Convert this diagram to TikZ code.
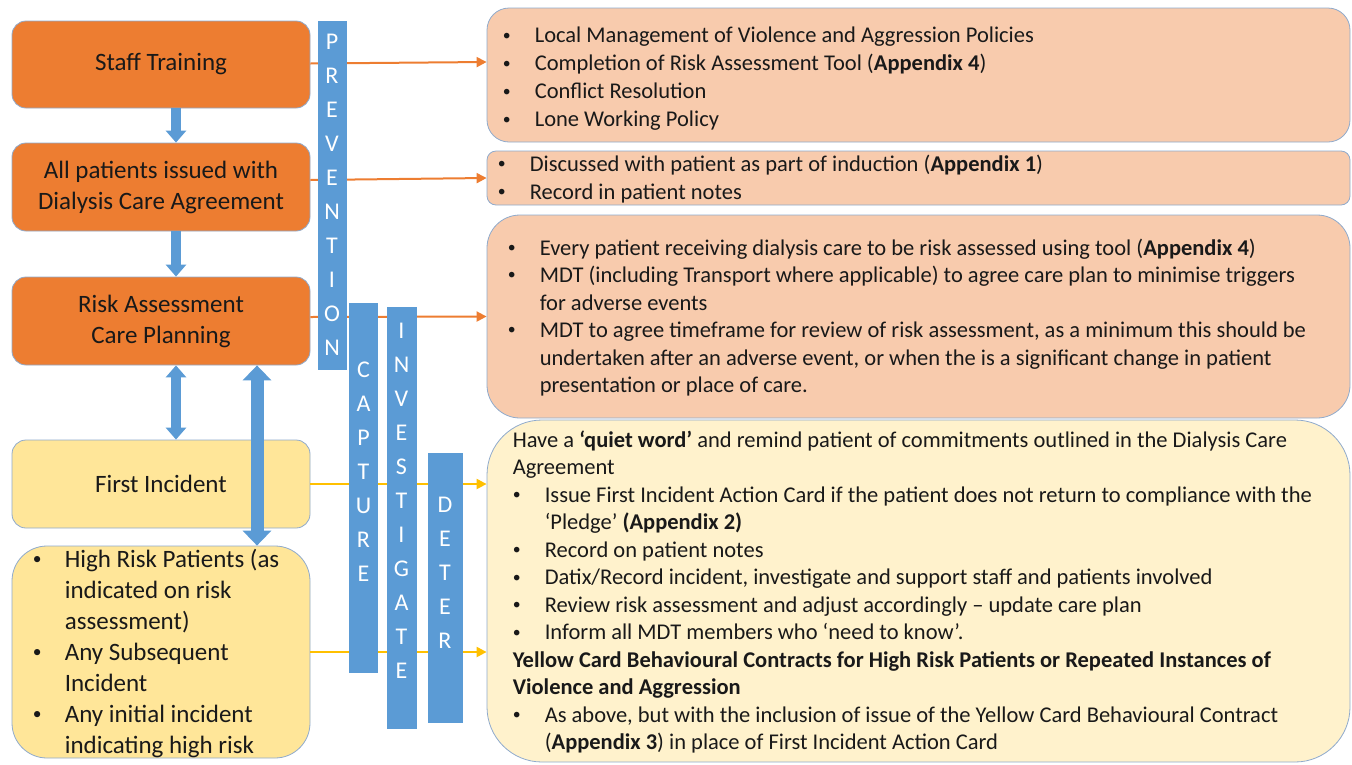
\documentclass[tikz,border=0pt]{standalone}
\usepackage{fontspec}
\usepackage{graphicx}
\setmainfont{Carlito}
\usetikzlibrary{arrows.meta}
\definecolor{orgA}{HTML}{ED7D31}
\definecolor{orgL}{HTML}{F8CBAD}
\definecolor{yelA}{HTML}{FFE699}
\definecolor{yelL}{HTML}{FFF2CC}
\definecolor{yelArr}{HTML}{FFC000}
\definecolor{bluA}{HTML}{5B9BD5}
\definecolor{edgeC}{HTML}{8FAACC}
\newlength\bulw
\setlength\bulw{32pt}
\newcommand\bul{\makebox[\bulw][l]{\raisebox{0.12em}{\scalebox{0.7}{\textbullet}}}}
\newcommand\ind{\hspace*{\bulw}}
\begin{document}
\begin{tikzpicture}[x=1pt,y=-1pt,
  lbox/.style={draw=edgeC, line width=0.8pt, rounded corners=14pt, minimum width=298pt, minimum height=87pt, inner sep=0pt, align=center, font=\fontsize{25}{31}\selectfont, text=black!90},
  rbox/.style={draw=edgeC, line width=0.8pt, fill=orgL, minimum width=863pt, inner sep=0pt},
  rtext/.style={anchor=west, inner sep=0pt, align=left, font=\fontsize{22.5}{27.5}\selectfont, text=black!90},
  barbox/.style={fill=bluA, inner sep=0pt},
  bartext/.style={inner sep=0pt, align=center, text=white, font=\fontsize{24}{34}\selectfont},
  orgarrow/.style={draw=orgA, line width=2pt, -{Triangle[width=10pt,length=10pt]}},
  yelarrow/.style={draw=yelArr, line width=2.2pt, -{Triangle[width=10pt,length=10pt]}},
  bluarrow/.style={draw=bluA, line width=10pt, -{Triangle[width=20pt,length=12pt]}},
  bludouble/.style={draw=bluA, line width=10pt, {Triangle[width=20pt,length=12pt]}-{Triangle[width=20pt,length=12pt]}},
  blubig/.style={draw=bluA, line width=13pt, {Triangle[width=28pt,length=15pt]}-{Triangle[width=28pt,length=15pt]}}
]
\useasboundingbox (0,0) rectangle (1352,764);

% left boxes
\node[lbox, fill=orgA] (st) at (161,64.5) {Staff Training};
\node[lbox, fill=orgA, minimum height=88pt] (ap) at (161,187) {All patients issued with\\Dialysis Care Agreement};
\node[lbox, fill=orgA, minimum height=88pt] (ra) at (161,321) {Risk Assessment\\Care Planning};
\node[lbox, fill=yelA, minimum height=88pt] (fi) at (161,484) {First Incident};
\node[lbox, fill=yelA, minimum height=212pt, rounded corners=35pt] (hr) at (161,652) {};
\node[rtext, font=\fontsize{25}{31}\selectfont] (hrt) at ([xshift=21pt,yshift=-1pt]hr.west) {\bul High Risk Patients (as\\
\ind indicated on risk\\
\ind assessment)\\
\bul Any Subsequent\\
\ind Incident\\
\bul Any initial incident\\
\ind indicating high risk};

% right boxes
\node[rbox, minimum height=134pt, rounded corners=22pt] (b1) at (918.5,75) {};
\node[rbox, minimum height=54pt, rounded corners=9pt] (b2) at (918.5,178) {};
\node[rbox, minimum height=203pt, rounded corners=33pt] (b3) at (918.5,316.5) {};
\node[rbox, fill=yelL, minimum height=342pt, rounded corners=55pt] (b4) at (918.5,591) {};

\node[rtext, font=\fontsize{22.5}{28}\selectfont] (b1t) at ([xshift=16pt,yshift=-4pt]b1.west) {\bul Local Management of Violence and Aggression Policies\\
\bul Completion of Risk Assessment Tool (\textbf{Appendix 4})\\
\bul Conflict Resolution\\
\bul Lone Working Policy};
\node[rtext] (b2t) at ([xshift=11pt,yshift=-1pt]b2.west) {\bul Discussed with patient as part of induction (\textbf{Appendix 1})\\
\bul Record in patient notes};
\node[rtext] (b3t) at ([xshift=21pt,yshift=-1pt]b3.west) {\bul Every patient receiving dialysis care to be risk assessed using tool (\textbf{Appendix 4})\\
\bul MDT (including Transport where applicable) to agree care plan to minimise triggers\\
\ind for adverse events\\
\bul MDT to agree timeframe for review of risk assessment, as a minimum this should be\\
\ind undertaken after an adverse event, or when the is a significant change in patient\\
\ind presentation or place of care.};
\node[rtext] (b4t) at ([xshift=26pt,yshift=-1pt]b4.west) {Have a \textbf{‘quiet word’} and remind patient of commitments outlined in the Dialysis Care\\
Agreement\\
\bul Issue First Incident Action Card if the patient does not return to compliance with the\\
\ind ‘Pledge’ \textbf{(Appendix 2)}\\
\bul Record on patient notes\\
\bul Datix/Record incident, investigate and support staff and patients involved\\
\bul Review risk assessment and adjust accordingly – update care plan\\
\bul Inform all MDT members who ‘need to know’.\\
\textbf{Yellow Card Behavioural Contracts for High Risk Patients or Repeated Instances of}\\
\textbf{Violence and Aggression}\\
\bul As above, but with the inclusion of issue of the Yellow Card Behavioural Contract\\
\ind (\textbf{Appendix 3}) in place of First Incident Action Card};

% connectors behind bars
\draw[orgarrow] ([yshift=1pt]st.east) -- ([yshift=13pt]b1.west);
\draw[orgarrow] ([yshift=7pt]ap.east) -- (b2.west);
\draw[orgarrow] ([yshift=4pt]ra.east) -- (b3.west);
\draw[yelarrow] (fi.east) -- (fi.east -| b4.west);
\draw[yelarrow] (hr.east) -- (hr.east -| b4.west);

% vertical bars
\node[barbox, minimum width=29pt, minimum height=349pt] (pv) at (332,195.5) {};
\node[barbox, minimum width=29pt, minimum height=370pt] (cp) at (363.5,488) {};
\node[barbox, minimum width=30pt, minimum height=422pt] (iv) at (401.5,518) {};
\node[barbox, minimum width=35pt, minimum height=270pt] (dt) at (445,588) {};
\node[bartext] (pvt) at (332,195) {P\\R\\E\\V\\E\\N\\T\\I\\O\\N};
\node[bartext] (cpt) at (363.5,472) {C\\A\\P\\T\\U\\R\\E};
\node[bartext] (ivt) at (401.5,501) {I\\N\\V\\E\\S\\T\\I\\G\\A\\T\\E};
\node[bartext] (dtt) at (445,572.5) {D\\E\\T\\E\\R};

% blue arrows
\draw[bluarrow] ([xshift=15pt]st.south) -- ([xshift=15pt]ap.north);
\draw[bluarrow] ([xshift=15pt]ap.south) -- ([xshift=15pt]ra.north);
\draw[bludouble] ([xshift=15pt]ra.south) -- ([xshift=15pt]fi.north);
\draw[blubig] ([xshift=96pt]ra.south) -- ([xshift=96pt]hr.north);
\end{tikzpicture}
\end{document}
